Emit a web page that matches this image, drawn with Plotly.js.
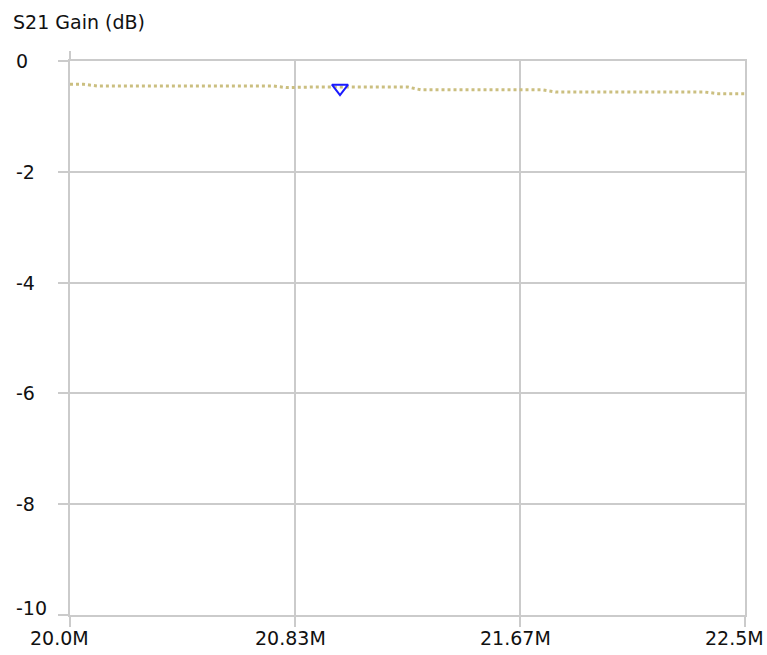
<!DOCTYPE html>
<html>
<head>
<meta charset="utf-8">
<script src="https://cdn.plot.ly/plotly-3.0.1.min.js"></script>
<style>html,body{margin:0;padding:0;background:#fff;}#chart{width:767px;height:655px;}</style>
</head>
<body>
<div id="chart"></div>
<script>
// Frequency sweep (MHz)
const freqMHz = [20.00,20.05,20.10,20.15,20.20,20.25,20.30,20.35,20.40,20.45,
                 20.50,20.55,20.60,20.65,20.70,20.75,20.80,20.85,20.90,20.95,
                 21.00,21.05,21.10,21.15,21.20,21.25,21.30,21.35,21.40,21.45,
                 21.50,21.55,21.60,21.65,21.70,21.75,21.80,21.85,21.90,21.95,
                 22.00,22.05,22.10,22.15,22.20,22.25,22.30,22.35,22.40,22.45,22.50];
// S21 gain (dB)
const gainDB = [-0.42,-0.42,-0.45,-0.45,-0.45,-0.45,-0.45,-0.45,-0.45,-0.45,
                -0.45,-0.45,-0.45,-0.45,-0.45,-0.45,-0.48,-0.47,-0.47,-0.47,
                -0.47,-0.47,-0.47,-0.47,-0.47,-0.47,-0.52,-0.52,-0.52,-0.52,
                -0.52,-0.52,-0.52,-0.52,-0.52,-0.52,-0.56,-0.56,-0.56,-0.56,
                -0.56,-0.56,-0.56,-0.56,-0.56,-0.56,-0.56,-0.56,-0.59,-0.59,-0.59];
// Marker
const markerFreq = [21.0];
const markerGain = [-0.49];
// Ticks
const xTickVals = [20.0, 20.8333, 21.6667, 22.5];
const xTickText = ['20.0M', '20.83M', '21.67M', '22.5M'];
const yTickVals = [0, -2, -4, -6, -8, -10];
const yTickText = ['0', '-2', '-4', '-6', '-8', '-10'];
const titleText = 'S21 Gain (dB)';

const FONT = {family: 'DejaVu Sans, Verdana, sans-serif', size: 19, color: '#111111'};
const GRID = '#cbcbcb';

const traces = [
  {x: freqMHz, y: gainDB, type: 'scatter', mode: 'lines',
   line: {color: '#cbbf80', width: 3, dash: '3px,3px'}, hoverinfo: 'skip'},
  {x: markerFreq, y: markerGain, type: 'scatter', mode: 'markers',
   marker: {symbol: 'triangle-down-open', size: 14, color: '#1a1aff', line: {width: 2, color: '#1a1aff'}}}
];

const annotations = [];
xTickVals.forEach((v, i) => annotations.push({
  xref: 'x', yref: 'paper', x: v, y: 0, text: xTickText[i], showarrow: false,
  xanchor: 'left', yanchor: 'middle', xshift: -42, yshift: -23, font: FONT
}));
yTickVals.forEach((v, i) => annotations.push({
  xref: 'paper', yref: 'y', x: 0, y: v, text: yTickText[i], showarrow: false,
  xanchor: 'left', yanchor: 'middle', xshift: -56, yshift: (v === -10 ? 7 : 0), font: FONT
}));

const axisCommon = {
  showgrid: true, gridcolor: GRID, gridwidth: 2, zeroline: false,
  showline: true, linecolor: GRID, linewidth: 2, mirror: true,
  ticks: 'outside', ticklen: 10, tickwidth: 2, tickcolor: GRID,
  showticklabels: false, tickmode: 'array'
};

const layout = {
  width: 767, height: 655,
  margin: {l: 70, r: 22, t: 61, b: 40},
  paper_bgcolor: '#ffffff', plot_bgcolor: '#ffffff',
  showlegend: false,
  font: FONT,
  title: {text: titleText, xref: 'container', yref: 'container',
          x: 13/767, xanchor: 'left', y: 1 - 22/655, yanchor: 'middle', font: FONT},
  xaxis: Object.assign({}, axisCommon, {range: [20.0, 22.5], tickvals: xTickVals}),
  yaxis: Object.assign({}, axisCommon, {range: [-10, 0], tickvals: yTickVals}),
  annotations: annotations,
  shapes: [{type: 'line', xref: 'paper', yref: 'paper', x0: 0, x1: 0, y0: 1, y1: 1 + 10/554,
            line: {color: GRID, width: 2}}]
};

Plotly.newPlot('chart', traces, layout, {displayModeBar: false, staticPlot: true});
</script>
</body>
</html>
